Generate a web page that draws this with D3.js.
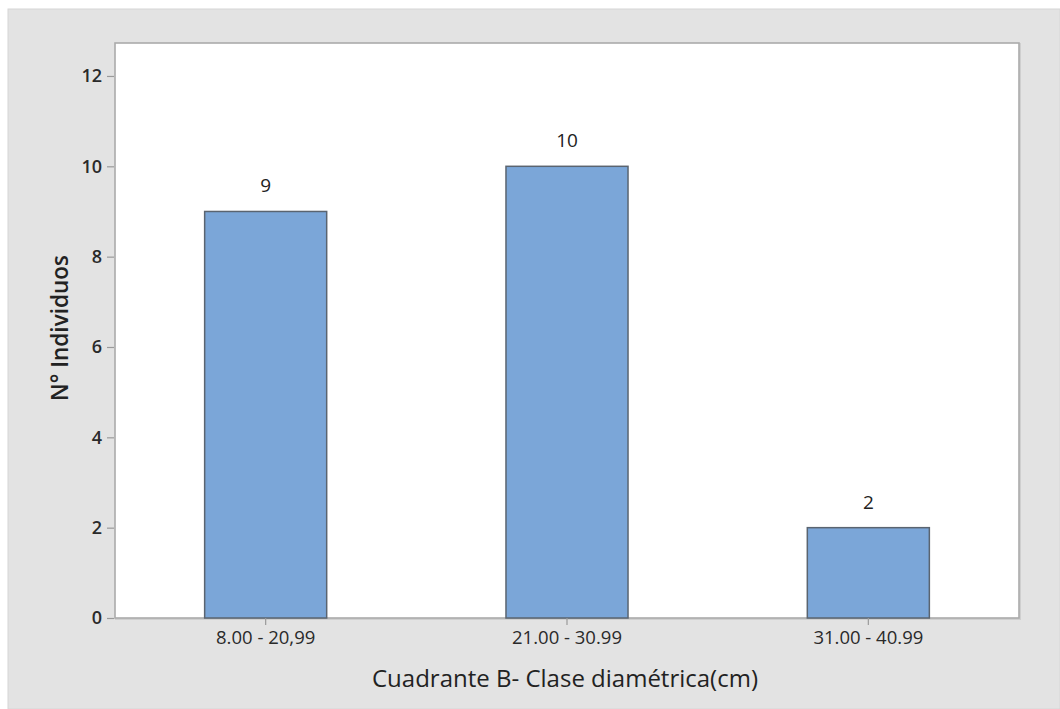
<!DOCTYPE html>
<html>
<head>
<meta charset="utf-8">
<script src="https://cdn.jsdelivr.net/npm/d3@7"></script>
<style>
  html, body { margin: 0; padding: 0; background: #ffffff; }
  svg { display: block; }
</style>
</head>
<body>
<svg id="chart" width="1060" height="709"></svg>
<script>
const categories = ["8.00 - 20,99", "21.00 - 30.99", "31.00 - 40.99"];
const counts = [9, 10, 2];
const yTicks = [0, 2, 4, 6, 8, 10, 12];
const xTitle = "Cuadrante B- Clase diamétrica(cm)";
const yTitle = "N° Individuos";

const W = 1060, H = 709;
const plot = { left: 115, top: 43, right: 1019, bottom: 618 };
const FONT = "'Open Sans', 'Noto Sans', sans-serif";

const svg = d3.select("#chart");

// outer gray panel
svg.append("rect").attr("x", 8).attr("y", 9).attr("width", W - 8).attr("height", H - 9)
  .attr("fill", "#e3e3e3").attr("stroke", "#d6d6d6").attr("stroke-width", 1);

const x = d3.scaleBand().domain(categories)
  .range([plot.left, plot.right])
  .paddingInner(0.595).paddingOuter(0.2975).align(0.5);

const y = d3.scaleLinear().domain([0, 12.73]).range([plot.bottom, plot.top]);

// plot area
svg.append("rect").attr("x", plot.left + 1).attr("y", plot.top + 1)
  .attr("width", plot.right - plot.left).attr("height", plot.bottom - plot.top)
  .attr("fill", "none").attr("stroke", "#cfcfcf").attr("stroke-width", 2);
svg.append("rect").attr("x", plot.left).attr("y", plot.top)
  .attr("width", plot.right - plot.left).attr("height", plot.bottom - plot.top)
  .attr("fill", "#ffffff").attr("stroke", "#ababab").attr("stroke-width", 1.6);

// bars
svg.append("g").selectAll("rect").data(counts).join("rect")
  .attr("x", (d, i) => x(categories[i]))
  .attr("y", d => y(d))
  .attr("width", x.bandwidth())
  .attr("height", d => y(0) - y(d))
  .attr("fill", "#7ba6d8")
  .attr("stroke", "#5a6470")
  .attr("stroke-width", 1.5);

// bar labels
svg.append("g").selectAll("text").data(counts).join("text")
  .attr("x", (d, i) => x(categories[i]) + x.bandwidth() / 2)
  .attr("y", d => y(d) - 19)
  .attr("text-anchor", "middle")
  .attr("font-family", FONT).attr("font-size", 19)
  .attr("fill", "#222")
  .text(d => d);

// y axis
const yAxis = d3.axisLeft(y).tickValues(yTicks).tickSize(7).tickPadding(5).tickFormat(d3.format("d"));
const gy = svg.append("g").attr("transform", `translate(${plot.left - 1},0)`).call(yAxis);
gy.select(".domain").remove();
gy.selectAll(".tick line").attr("stroke", "#9a9a9a").attr("stroke-width", 1.2);
gy.selectAll(".tick text").attr("font-family", FONT).attr("font-size", 18)
  .attr("font-weight", 600).attr("fill", "#2a2a2a");

// x axis
const xAxis = d3.axisBottom(x).tickSize(7).tickPadding(6);
const gx = svg.append("g").attr("transform", `translate(0,${plot.bottom})`).call(xAxis);
gx.select(".domain").remove();
gx.selectAll(".tick line").attr("stroke", "#9a9a9a").attr("stroke-width", 1.2);
gx.selectAll(".tick text").attr("font-family", FONT).attr("font-size", 18.5)
  .attr("fill", "#2a2a2a");

// axis titles
svg.append("text").attr("x", (plot.left + plot.right) / 2 - 2).attr("y", 687)
  .attr("text-anchor", "middle").attr("font-family", FONT).attr("font-size", 24)
  .attr("fill", "#222").text(xTitle);

svg.append("text")
  .attr("transform", `translate(68,${(253 + 403) / 2}) rotate(-90)`)
  .attr("text-anchor", "middle").attr("font-family", FONT).attr("font-size", 22.5)
  .attr("font-weight", 600).attr("fill", "#222").text(yTitle);
</script>
</body>
</html>
